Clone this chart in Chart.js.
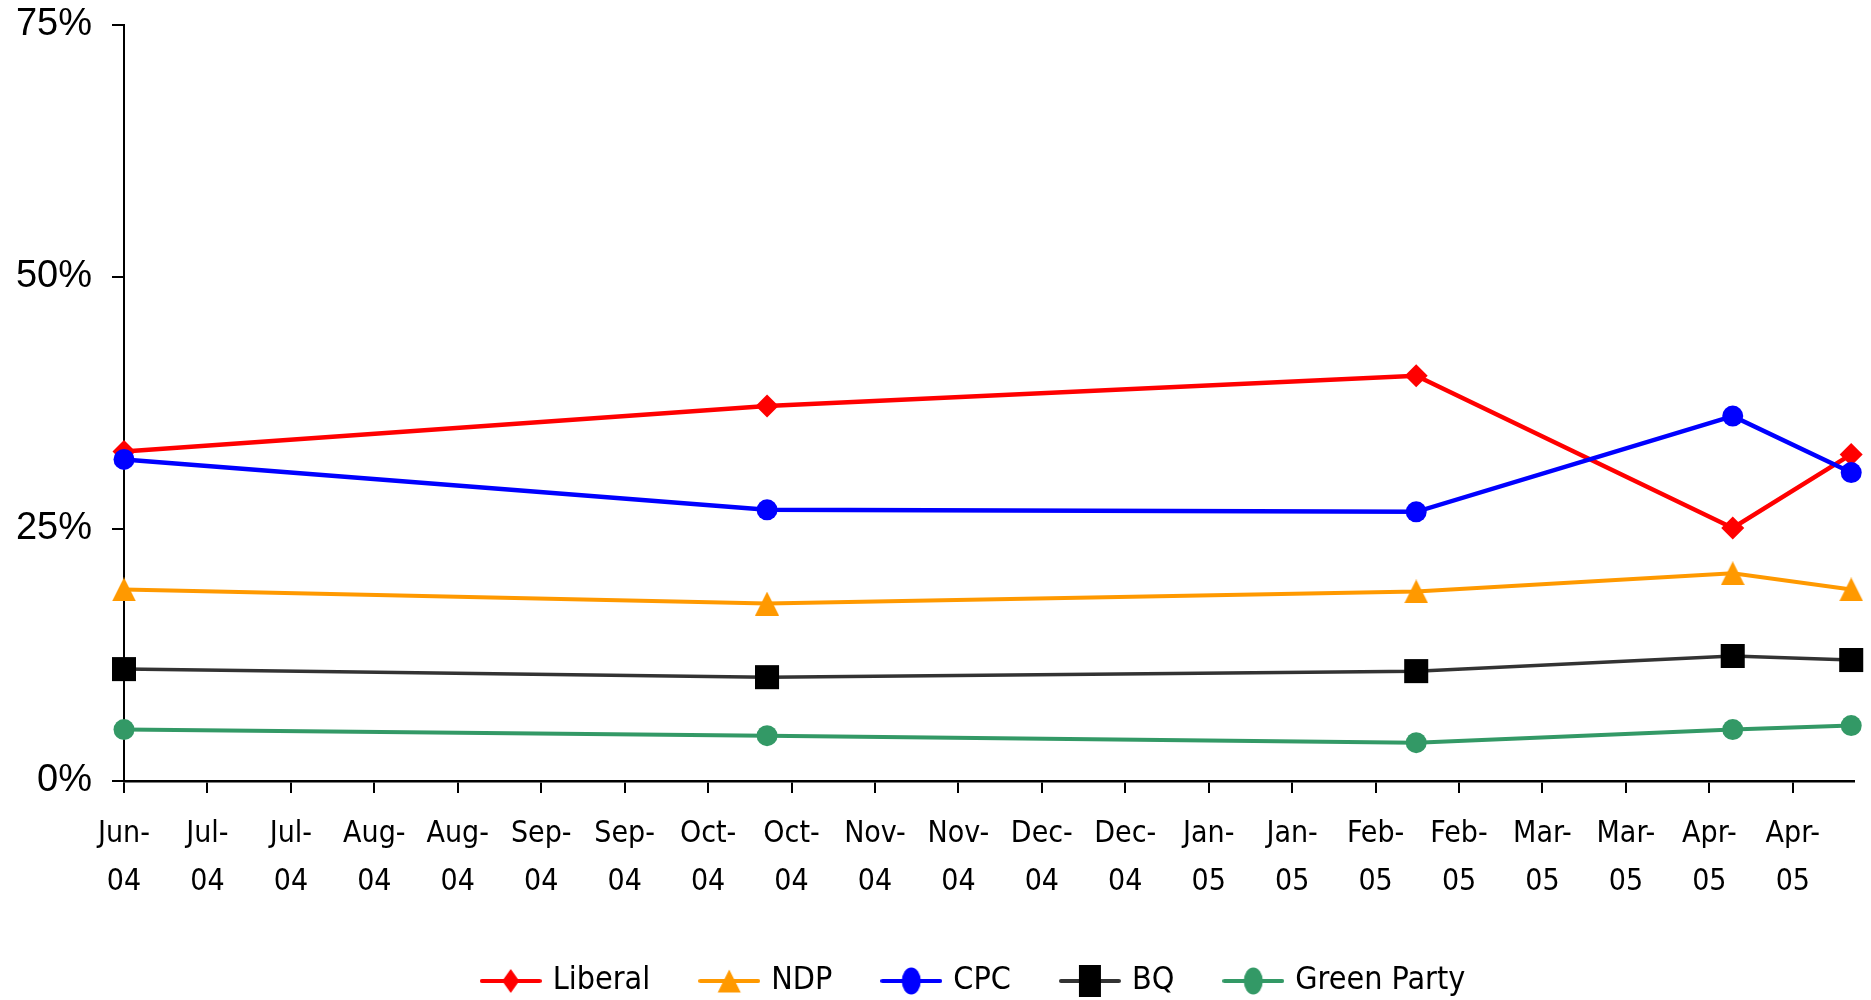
<!DOCTYPE html>
<html>
<head>
<meta charset="utf-8">
<script src="https://cdn.jsdelivr.net/npm/chart.js@4.4.1/dist/chart.umd.min.js"></script>
<style>
  html, body { margin: 0; padding: 0; background: #ffffff; }
  #wrap { width: 1871px; height: 1000px; }
</style>
</head>
<body>
<div id="wrap"><canvas id="chart" width="1871" height="1000"></canvas></div>
<script>
// ---- data ----
const tickLabels = ['Jun-04','Jul-04','Jul-04','Aug-04','Aug-04','Sep-04','Sep-04','Oct-04','Oct-04','Nov-04','Nov-04','Dec-04','Dec-04','Jan-05','Jan-05','Feb-05','Feb-05','Mar-05','Mar-05','Apr-05','Apr-05'];
const tickStepDays = 15;                        // days between axis ticks
const pollDays = [0, 115.6, 232.3, 289.2, 310.5]; // poll dates, days after the first poll
const axisEndDay = 311;
const seriesNames = ['Liberal', 'NDP', 'CPC', 'BQ', 'Green Party'];
const liberal = [32.7, 37.2, 40.2, 25.1, 32.4];
const ndp     = [19.0, 17.6, 18.8, 20.6, 19.0];
const cpc     = [31.9, 26.9, 26.7, 36.2, 30.6];
const bq      = [11.1, 10.3, 10.9, 12.4, 12.0];
const green   = [5.1, 4.5, 3.8, 5.1, 5.5];
const yTicks  = [0, 25, 50, 75];

// ---- styling helpers ----
const NARROW = "'Liberation Sans Narrow', 'Arial Narrow', 'DejaVu Sans Condensed', sans-serif";
const SANS = "'Liberation Sans', Arial, sans-serif";

function triangleCanvas(color, w, h) {
  const c = document.createElement('canvas');
  c.width = w; c.height = h;
  const g = c.getContext('2d');
  g.fillStyle = color;
  g.beginPath();
  g.moveTo(w / 2, 0); g.lineTo(w, h); g.lineTo(0, h);
  g.closePath(); g.fill();
  return c;
}

function legendIcon(markColor, lineColor, shape) {
  const W = 62, H = 36;
  const c = document.createElement('canvas');
  c.width = W; c.height = H;
  const g = c.getContext('2d');
  g.strokeStyle = lineColor; g.lineWidth = 4; g.lineCap = 'round';
  g.beginPath(); g.moveTo(2, H / 2); g.lineTo(W - 2, H / 2); g.stroke();
  const cx = W / 2, cy = H / 2;
  g.fillStyle = markColor;
  g.beginPath();
  if (shape === 'diamond') { g.moveTo(cx, cy - 12); g.lineTo(cx + 8.5, cy); g.lineTo(cx, cy + 12); g.lineTo(cx - 8.5, cy); }
  else if (shape === 'triangle') { g.moveTo(cx, cy - 11.5); g.lineTo(cx + 11.5, cy + 11.5); g.lineTo(cx - 11.5, cy + 11.5); }
  else if (shape === 'circle') { g.ellipse(cx, cy, 9.5, 13.5, 0, 0, Math.PI * 2); }
  else if (shape === 'square') { g.rect(cx - 11, cy - 16, 22, 32); }
  g.closePath(); g.fill();
  return c;
}

const legendIcons = [
  legendIcon('#FF0000', '#FF0000', 'diamond'),
  legendIcon('#FF9900', '#FF9900', 'triangle'),
  legendIcon('#0000FF', '#0000FF', 'circle'),
  legendIcon('#000000', '#333333', 'square'),
  legendIcon('#339966', '#339966', 'circle')
];

function pts(values) { return values.map((v, i) => ({ x: pollDays[i], y: v })); }

const datasets = [
  { label: seriesNames[0], data: pts(liberal), borderColor: '#FF0000', backgroundColor: '#FF0000', borderWidth: 4.5,
    pointStyle: 'rectRot', pointRadius: 11.5, pointBackgroundColor: '#FF0000', pointBorderWidth: 0, order: 5 },
  { label: seriesNames[1], data: pts(ndp), borderColor: '#FF9900', backgroundColor: '#FF9900', borderWidth: 4,
    pointStyle: triangleCanvas('#FF9900', 24, 24), pointRadius: 12, pointBorderWidth: 0, order: 4 },
  { label: seriesNames[2], data: pts(cpc), borderColor: '#0000FF', backgroundColor: '#0000FF', borderWidth: 4.5,
    pointStyle: 'circle', pointRadius: 10.5, pointBackgroundColor: '#0000FF', pointBorderWidth: 0, order: 3 },
  { label: seriesNames[3], data: pts(bq), borderColor: '#333333', backgroundColor: '#000000', borderWidth: 3.5,
    pointStyle: 'rect', pointRadius: 17, pointBackgroundColor: '#000000', pointBorderWidth: 0, order: 2 },
  { label: seriesNames[4], data: pts(green), borderColor: '#339966', backgroundColor: '#339966', borderWidth: 4,
    pointStyle: 'circle', pointRadius: 10.5, pointBackgroundColor: '#339966', pointBorderWidth: 0, order: 1 }
].map(d => Object.assign({ fill: false, tension: 0, clip: false, pointHoverRadius: d.pointRadius }, d));

// shift the bottom legend so it is centred where the original legend sits
const legendShift = {
  id: 'legendShift',
  afterLayout(chart) {
    const l = chart.legend;
    if (l) { l.left += 46; l.right += 46; }
  }
};

new Chart(document.getElementById('chart'), {
  type: 'line',
  data: { datasets },
  plugins: [legendShift],
  options: {
    responsive: false,
    animation: false,
    devicePixelRatio: 1,
    layout: { padding: { left: 0, right: 13, top: 25, bottom: -7 } },
    plugins: {
      tooltip: { enabled: false },
      legend: {
        position: 'bottom',
        align: 'center',
        labels: {
          usePointStyle: true,
          pointStyleWidth: 52,
          padding: 53,
          color: '#000000',
          font: { family: NARROW, size: 32 },
          sort: (a, b) => a.datasetIndex - b.datasetIndex,
          generateLabels: (chart) => Chart.defaults.plugins.legend.labels.generateLabels(chart)
            .map(it => Object.assign(it, { pointStyle: legendIcons[it.datasetIndex], rotation: 0 }))
        }
      }
    },
    scales: {
      x: {
        type: 'linear',
        min: 0,
        max: axisEndDay,
        afterBuildTicks: (s) => { s.ticks = tickLabels.map((_, i) => ({ value: i * tickStepDays })); },
        afterFit: (s) => { s.height = 131; },
        border: { display: true, color: '#000000', width: 2.5 },
        grid: { display: true, drawOnChartArea: false, drawTicks: true, tickLength: 12, color: '#000000', lineWidth: 2 },
        ticks: {
          autoSkip: false, maxRotation: 0, minRotation: 0, padding: 17, color: '#000000',
          font: { family: NARROW, size: 30, lineHeight: 1.6 },
          callback: (v, i) => { const t = tickLabels[i]; const k = t.indexOf('-'); return [t.slice(0, k + 1), t.slice(k + 1)]; }
        }
      },
      y: {
        min: 0,
        max: 75,
        afterBuildTicks: (s) => { s.ticks = yTicks.map(v => ({ value: v })); },
        afterFit: (s) => { s.width = 124; s.paddingTop = 0; s.paddingBottom = 0; },
        border: { display: true, color: '#000000', width: 2 },
        grid: { display: true, drawOnChartArea: false, drawTicks: true, tickLength: 12, color: '#000000', lineWidth: 2 },
        ticks: { padding: 20, color: '#000000', font: { family: SANS, size: 38 }, callback: (v) => v + '%' }
      }
    }
  }
});
</script>
</body>
</html>
